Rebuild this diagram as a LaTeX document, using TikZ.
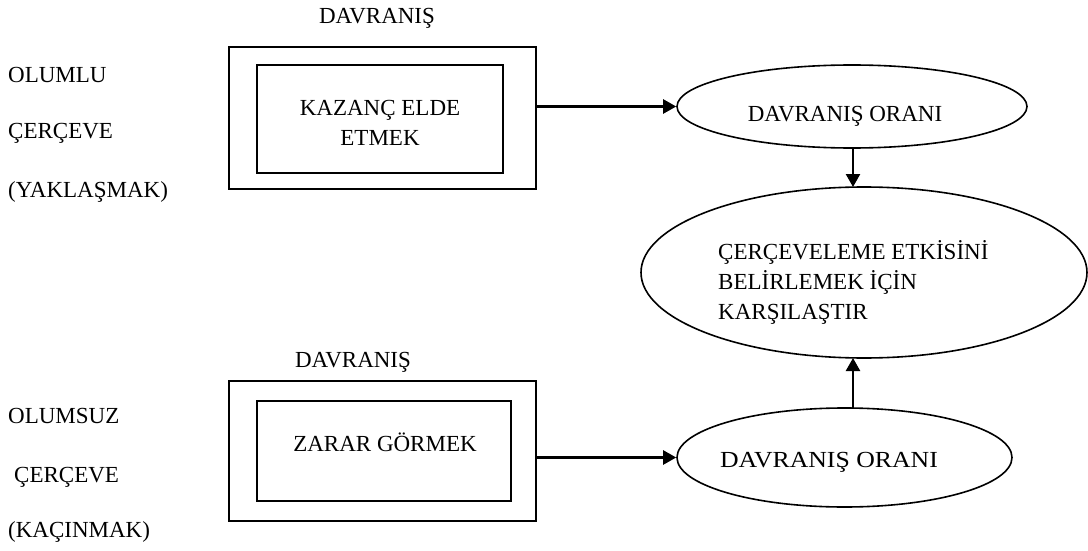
\documentclass[tikz,border=0pt]{standalone}
\usepackage{fontspec}
\setmainfont{Liberation Serif}
\usetikzlibrary{shapes.geometric,arrows.meta}

\tikzset{
  lbl/.style={inner sep=0pt, font=\fontsize{23}{30}\selectfont},
  framebox/.style={draw, line width=1.6pt, inner sep=0pt},
  oval/.style={draw, ellipse, line width=1.6pt, inner sep=0pt},
  arr/.style={line width=2.4pt, -{Triangle[length=13pt,width=14pt]}},
}

\begin{document}
\begin{tikzpicture}[x=1pt,y=-1pt]
\useasboundingbox (0,0) rectangle (1088,551);

% left-hand frame labels
\node[lbl, anchor=west] (pos1) at (8,75)  {OLUMLU};
\node[lbl, anchor=west] (pos2) at (8,133) {ÇERÇEVE};
\node[lbl, anchor=west] (pos3) at (8,192) {(YAKLAŞMAK)};
\node[lbl, anchor=west] (neg1) at (8,416) {OLUMSUZ};
\node[lbl, anchor=west] (neg2) at (14,477) {ÇERÇEVE};
\node[lbl, anchor=west] (neg3) at (8,532) {(KAÇINMAK)};

% upper behaviour box
\node[lbl] (beh1) at (377,18) {DAVRANIŞ};
\node[framebox, minimum width=307pt, minimum height=142pt] (ob1) at (382.5,118) {};
\node[framebox, minimum width=246pt, minimum height=108pt] (ib1) at (380,119) {};
\node[lbl, align=center] (gain) at (380,123) {KAZANÇ ELDE\\ETMEK};

% lower behaviour box
\node[lbl] (beh2) at (353,362) {DAVRANIŞ};
\node[framebox, minimum width=307pt, minimum height=140pt] (ob2) at (382.5,451) {};
\node[framebox, minimum width=254pt, minimum height=100pt] (ib2) at (384,451) {};
\node[lbl] (loss) at (385,442) {ZARAR GÖRMEK};

% rate ovals
\node[oval, minimum width=350pt, minimum height=83pt] (el1) at (852,106.5) {};
\node[lbl] (rate1) at (845,116) {DAVRANIŞ ORANI};
\node[oval, minimum width=335pt, minimum height=99pt] (el2) at (844.5,457.5) {};
\node[lbl, xscale=1.12] (rate2) at (829,462) {DAVRANIŞ ORANI};

% comparison oval
\node[oval, minimum width=446pt, minimum height=171pt] (cmp) at (864,272.5) {};
\node[lbl, align=left, anchor=west] (cmpt) at (718,282) {ÇERÇEVELEME ETKİSİNİ\\BELİRLEMEK İÇİN\\KARŞILAŞTIR};

% connectors
\draw[arr] (ob1.east |- el1.west) -- (el1.west);
\draw[arr] (ob2.east |- el2.west) -- (el2.west);
\draw[arr] (el1.south -| 853,0) -- (853,187);
\draw[arr] (853,408) -- (853,358);
\end{tikzpicture}
\end{document}
